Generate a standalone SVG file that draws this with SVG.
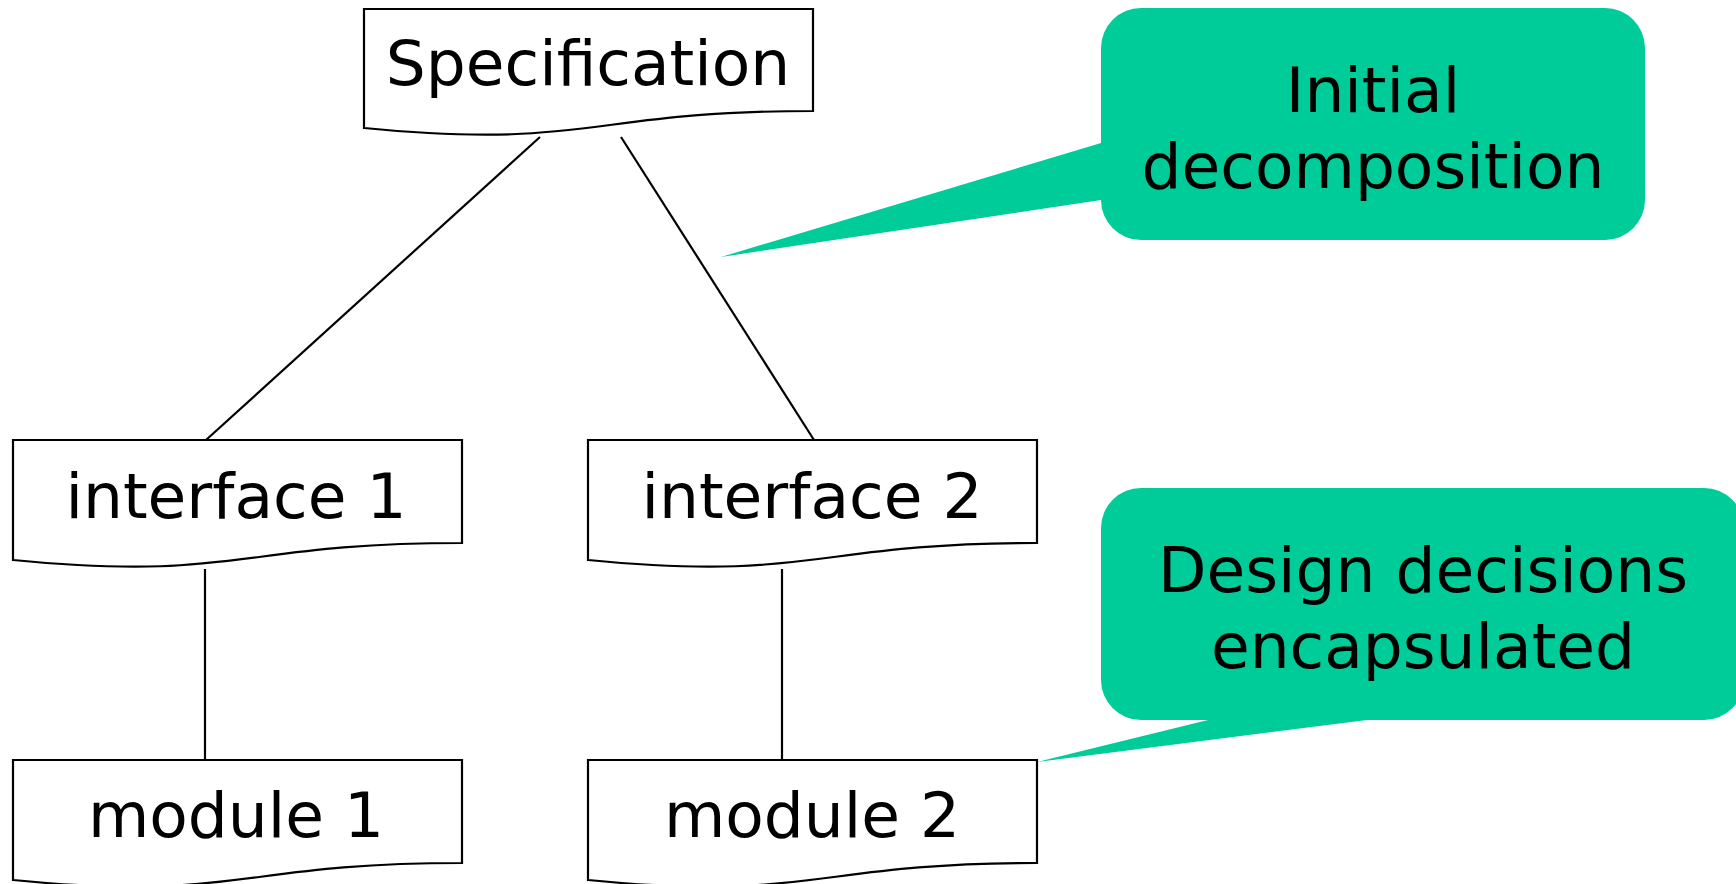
<svg xmlns="http://www.w3.org/2000/svg" width="1736" height="884" viewBox="0 0 1736 884">
<style>
.box{fill:#fff;stroke:#000;stroke-width:2.2}
.lbl{font-family:"DejaVu Sans","Verdana",sans-serif;font-size:63px;fill:#000;text-anchor:middle}
.conn{stroke:#000;stroke-width:2.2;fill:none}
.call{fill:#00CC99;stroke:none}
</style>
<rect width="1736" height="884" fill="#fff"/>
<g id="connectors">
<line class="conn" x1="540" y1="137" x2="206" y2="440"/>
<line class="conn" x1="621" y1="137" x2="814" y2="440"/>
<line class="conn" x1="205" y1="569" x2="205" y2="760"/>
<line class="conn" x1="782" y1="569" x2="782" y2="761"/>
</g>
<g id="specification">
<path class="box" d="M364,9 H813 V111 C588.5,111 588.5,150 364,128 Z"/>
<text class="lbl" x="588" y="85">Specification</text>
</g>
<g id="interface1">
<path class="box" d="M13,440 H462 V543 C237.5,543 237.5,582 13,560 Z"/>
<text class="lbl" x="236" y="518">interface 1</text>
</g>
<g id="interface2">
<path class="box" d="M588,440 H1037 V543 C812.5,543 812.5,582 588,560 Z"/>
<text class="lbl" x="812" y="518">interface 2</text>
</g>
<g id="module1">
<path class="box" d="M13,760 H462 V863 C237.5,863 237.5,902 13,880 Z"/>
<text class="lbl" x="236" y="837">module 1</text>
</g>
<g id="module2">
<path class="box" d="M588,760 H1037 V863 C812.5,863 812.5,902 588,880 Z"/>
<text class="lbl" x="812" y="837">module 2</text>
</g>
<g id="callout-initial">
<path class="call" d="M1141,8 H1605 A40,40 0 0 1 1645,48 V200 A40,40 0 0 1 1605,240 H1141 A40,40 0 0 1 1101,200 L721,257 L1101,143 V48 A40,40 0 0 1 1141,8 Z"/>
<text class="lbl" x="1373" y="112">Initial</text>
<text class="lbl" x="1373" y="188">decomposition</text>
</g>
<g id="callout-design">
<path class="call" d="M1141,488 H1704 A40,40 0 0 1 1744,528 V680 A40,40 0 0 1 1704,720 H1367 L1037,762 L1208,720 H1141 A40,40 0 0 1 1101,680 V528 A40,40 0 0 1 1141,488 Z"/>
<text class="lbl" x="1423" y="592">Design decisions</text>
<text class="lbl" x="1423" y="668">encapsulated</text>
</g>
</svg>
